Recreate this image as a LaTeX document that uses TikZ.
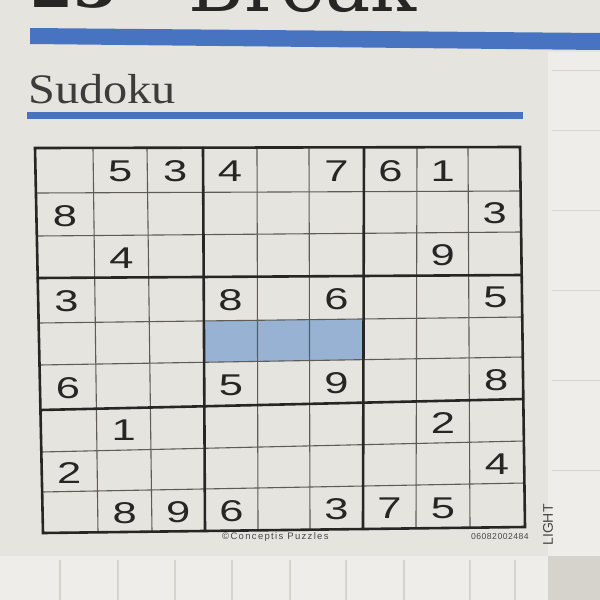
\documentclass[tikz,border=0pt]{standalone}
\usepackage{fontspec}
\setmainfont{Liberation Sans}
\newfontfamily\digitfont[FakeStretch=1.45]{Liberation Sans}
\newfontfamily\headfont[FakeStretch=1.15]{Liberation Serif}
\newfontfamily\bigfont{DejaVu Serif}
\newfontfamily\creditfont[LetterSpace=14]{Liberation Sans}
\newfontfamily\codefont[LetterSpace=6]{Liberation Sans}
\usetikzlibrary{calc}
\definecolor{paper}{RGB}{230,228,223}
\definecolor{paperlight}{RGB}{238,237,234}
\definecolor{streak}{RGB}{214,211,204}
\definecolor{barblue}{RGB}{72,115,192}
\definecolor{cellblue}{RGB}{152,178,212}
\definecolor{ink}{RGB}{40,38,36}
\definecolor{thinline}{RGB}{95,92,88}
\begin{document}
\begin{tikzpicture}[x=1pt,y=-1pt,
  thinrule/.style={draw=thinline,line width=1.1pt},
  thickrule/.style={draw=ink,line width=2.6pt,line cap=round},
  digit/.style={font=\digitfont\fontsize{30}{30}\selectfont,text=ink,inner sep=0pt,yshift=-1.5pt},
  headtext/.style={inner sep=0pt,text=ink},
  smalltext/.style={inner sep=0pt,text=ink!85}]
\useasboundingbox (0,0) rectangle (600,600);
\fill[paper] (0,0) rectangle (600,600);
% photo margins
\fill[paperlight] (548,52) rectangle (600,600);
\fill[paperlight] (0,556) rectangle (548,600);
\foreach \sx in {60,118,175,232,290,346,404,470,515}
  \draw[streak,line width=2pt] (\sx,560) -- (\sx,600);
\foreach \sy in {70,130,210,290,380,470}
  \draw[streak,line width=1pt] (552,\sy) -- (600,\sy);
\fill[streak] (548,556) rectangle (600,600);
% header
\node[headtext,anchor=base west,font=\bigfont\bfseries\fontsize{62}{62}\selectfont] (num) at (30,7) {23};
\node[headtext,anchor=base west,font=\bigfont\fontsize{76}{76}\selectfont] (brk) at (188,11) {Break};
\fill[barblue] (30,28) -- (600,33) -- (600,50) -- (30,44) -- cycle;
\node[headtext,anchor=base west,font=\headfont\fontsize{42}{42}\selectfont,text=ink!90] (title) at (28,103) {Sudoku};
\fill[barblue] (27,112) rectangle (523,119);
% grid geometry (slightly skewed photo)
\def\TX{{35,93,147,203,257,309,364,417,468,520}}
\def\BX{{43,98,152,205,258,310,363,416,470,525}}
\def\LY{{148,193,236,278,323,365,410,452,492,533}}
\def\RY{{147,191,232,275,317,357,399,441,483,527}}
\foreach \i in {0,...,9}{
  \foreach \j in {0,...,9}{
    \pgfmathsetmacro\xa{\TX[\i]}
    \pgfmathsetmacro\xb{\BX[\i]}
    \pgfmathsetmacro\ya{\LY[\j]}
    \pgfmathsetmacro\yb{\RY[\j]}
    \coordinate (p-\i-\j) at ({\xa+(\xb-\xa)*\j/9},{\ya+(\yb-\ya)*\i/9});
  }
}
% highlighted cells
\fill[cellblue] (p-3-4) -- (p-6-4) -- (p-6-5) -- (p-3-5) -- cycle;
% grid lines
\foreach \k in {1,2,4,5,7,8}{
  \draw[thinrule] (p-\k-0) -- (p-\k-9);
  \draw[thinrule] (p-0-\k) -- (p-9-\k);
}
\foreach \k in {3,6}{
  \draw[thickrule] (p-\k-0) -- (p-\k-9);
  \draw[thickrule] (p-0-\k) -- (p-9-\k);
}
\draw[thickrule,line join=miter] (p-0-0) -- (p-9-0) -- (p-9-9) -- (p-0-9) -- cycle;
% givens
\foreach \r/\c/\d in {0/1/5,0/2/3,0/3/4,0/5/7,0/6/6,0/7/1,
  1/0/8,1/8/3,2/1/4,2/7/9,
  3/0/3,3/3/8,3/5/6,3/8/5,
  5/0/6,5/3/5,5/5/9,5/8/8,
  6/1/1,6/7/2,7/0/2,7/8/4,
  8/1/8,8/2/9,8/3/6,8/5/3,8/6/7,8/7/5}{
  \pgfmathtruncatemacro\rr{\r+1}
  \pgfmathtruncatemacro\cc{\c+1}
  \node[digit] (d-\r-\c) at ($(p-\c-\r)!0.5!(p-\cc-\rr)$) {\d};
}
% footer
\node[smalltext,anchor=west,font=\creditfont\fontsize{9.5}{9.5}\selectfont] (credit) at (222,537) {©Conceptis Puzzles};
\node[smalltext,anchor=east,font=\codefont\fontsize{8.6}{8.6}\selectfont] (code) at (529,537) {06082002484};
\node[smalltext,rotate=90,font=\fontsize{14}{14}\selectfont] (light) at (548,525) {LIGHT};
\end{tikzpicture}
\end{document}
